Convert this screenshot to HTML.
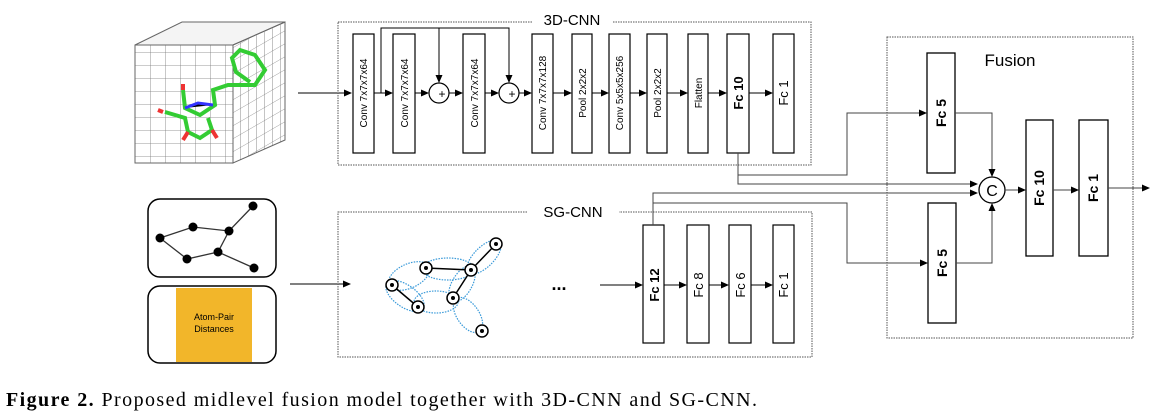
<!DOCTYPE html>
<html><head><meta charset="utf-8"><style>
body{margin:0;background:#fff;width:1165px;height:418px;overflow:hidden}
svg{display:block}
text{font-family:"Liberation Sans",sans-serif}
</style></head><body>
<svg width="1165" height="418" viewBox="0 0 1165 418" xmlns="http://www.w3.org/2000/svg">
<defs>
<marker id="a" markerWidth="8" markerHeight="8" refX="7" refY="4" orient="auto" markerUnits="userSpaceOnUse"><path d="M0,0.5 L8,4 L0,7.5z" fill="#000"/></marker>
<pattern id="g" width="15" height="13" patternUnits="userSpaceOnUse"><path d="M0,0H15M0,0V13" stroke="#777" stroke-width="0.8" fill="none"/></pattern>
<pattern id="g2" width="8" height="13" patternUnits="userSpaceOnUse" patternTransform="skewY(-30)"><path d="M0,0H8M0,0V13" stroke="#777" stroke-width="0.8" fill="none"/></pattern>
</defs>
<!-- cube -->
<polygon points="135,45 233,45 285,22 182,22" fill="#f4f4f4" stroke="#666"/>
<rect x="135" y="45" width="98" height="118" fill="url(#g)" stroke="#666"/>
<polygon points="233,45 285,22 285,140 233,163" fill="url(#g2)" stroke="#666"/>
<polyline points="183,90 185,108 200,115 215,105 213,90 228,85 255,85 265,70 255,55 240,50 232,58 236,72 250,82" fill="none" stroke="#3c3" stroke-width="4"/>
<polyline points="165,112 185,118 188,132 200,138 212,130 208,118" fill="none" stroke="#3c3" stroke-width="4"/>
<path d="M185,108 L198,103 L213,105" stroke="#33f" stroke-width="3"/>
<path d="M163,112 l-5,-2 M188,132 l-5,8 M212,130 l5,8 M183,90 l0,-6" stroke="#e33" stroke-width="4"/>
<line x1="298" y1="93" x2="351" y2="93" stroke="#000" marker-end="url(#a)"/>
<!-- 3D-CNN box -->
<rect x="338" y="22" width="473" height="143" fill="none" stroke="#555" stroke-dasharray="1.5,1"/>
<rect x="532" y="12" width="80" height="18" fill="#fff"/>
<text x="572" y="25" font-size="15" text-anchor="middle">3D-CNN</text>
<g stroke="#000" fill="#fff" stroke-width="1.2">
<rect x="353" y="34" width="21" height="119"/><rect x="393" y="34" width="22" height="119"/>
<rect x="463" y="34" width="22" height="119"/><rect x="532" y="34" width="21" height="119"/>
<rect x="572" y="34" width="20" height="119"/><rect x="609" y="34" width="21" height="119"/>
<rect x="647" y="34" width="20" height="119"/><rect x="688" y="34" width="20" height="119"/>
<rect x="727" y="34" width="22" height="119"/><rect x="773" y="34" width="21" height="119"/>
<circle cx="439" cy="93" r="10"/><circle cx="509" cy="93" r="10"/>
</g>
<g stroke="#000" fill="none">
<line x1="374" y1="93" x2="392" y2="93" marker-end="url(#a)"/>
<line x1="415" y1="93" x2="428" y2="93" marker-end="url(#a)"/>
<line x1="449" y1="93" x2="462" y2="93" marker-end="url(#a)"/>
<line x1="485" y1="93" x2="498" y2="93" marker-end="url(#a)"/>
<line x1="519" y1="93" x2="531" y2="93" marker-end="url(#a)"/>
<line x1="553" y1="93" x2="571" y2="93" marker-end="url(#a)"/>
<line x1="592" y1="93" x2="608" y2="93" marker-end="url(#a)"/>
<line x1="630" y1="93" x2="646" y2="93" marker-end="url(#a)"/>
<line x1="667" y1="93" x2="687" y2="93" marker-end="url(#a)"/>
<line x1="708" y1="93" x2="726" y2="93" marker-end="url(#a)"/>
<line x1="749" y1="93" x2="772" y2="93" marker-end="url(#a)"/>
<polyline points="381,93 381,28 509,28 509,82" marker-end="url(#a)"/>
<line x1="439" y1="28" x2="439" y2="82" marker-end="url(#a)"/>
</g>
<g font-size="10" text-anchor="middle">
<text x="442" y="98" font-size="12">+</text><text x="512" y="98" font-size="12">+</text>
<text transform="translate(367,93) rotate(-90)">Conv 7x7x7x64</text>
<text transform="translate(408,93) rotate(-90)">Conv 7x7x7x64</text>
<text transform="translate(478,93) rotate(-90)">Conv 7x7x7x64</text>
<text transform="translate(546,93) rotate(-90)">Conv 7x7x7x128</text>
<text transform="translate(586,93) rotate(-90)">Pool 2x2x2</text>
<text transform="translate(623,93) rotate(-90)">Conv 5x5x5x256</text>
<text transform="translate(661,93) rotate(-90)">Pool 2x2x2</text>
<text transform="translate(702,93) rotate(-90)">Flatten</text>
<text transform="translate(743,93) rotate(-90)" font-size="13" font-weight="bold">Fc 10</text>
<text transform="translate(788,93) rotate(-90)" font-size="13">Fc 1</text>
</g>
<!-- inputs -->
<rect x="148" y="199" width="128" height="78" rx="12" fill="none" stroke="#000" stroke-width="1.5"/>
<rect x="148" y="286" width="128" height="77" rx="12" fill="none" stroke="#000" stroke-width="1.5"/>
<rect x="176" y="288" width="76" height="74" fill="#f2b62a"/>
<text x="214" y="320" font-size="9" text-anchor="middle">Atom-Pair</text>
<text x="214" y="332" font-size="9" text-anchor="middle">Distances</text>
<g stroke="#333" stroke-width="1.3">
<polyline points="160,238 193,227 229,231 253,206" fill="none"/>
<polyline points="229,231 218,252 187,259 160,238" fill="none"/>
<line x1="218" y1="252" x2="254" y2="268"/>
</g>
<g fill="#000"><circle cx="160" cy="238" r="4.5"/><circle cx="193" cy="227" r="4.5"/><circle cx="229" cy="231" r="4.5"/><circle cx="253" cy="206" r="4.5"/><circle cx="218" cy="252" r="4.5"/><circle cx="187" cy="259" r="4.5"/><circle cx="254" cy="268" r="4.5"/></g>
<line x1="290" y1="284" x2="350" y2="284" stroke="#000" marker-end="url(#a)"/>
<!-- SG-CNN -->
<rect x="338" y="212" width="474" height="145" fill="none" stroke="#555" stroke-dasharray="1.5,1"/>
<rect x="527" y="202" width="92" height="20" fill="#fff"/>
<text x="573" y="217" font-size="15" text-anchor="middle">SG-CNN</text>
<g fill="none" stroke="#3a9ad9" stroke-dasharray="1.5,1.2" stroke-width="1.2">
<ellipse cx="405" cy="296" rx="22" ry="11" transform="rotate(35 405 296)"/>
<ellipse cx="409" cy="276" rx="22" ry="12" transform="rotate(-25 409 276)"/>
<ellipse cx="448" cy="269" rx="26" ry="11"/>
<ellipse cx="484" cy="257" rx="22" ry="10" transform="rotate(-45 484 257)"/>
<ellipse cx="462" cy="284" rx="20" ry="10" transform="rotate(-60 462 284)"/>
<ellipse cx="436" cy="302" rx="22" ry="11"/>
<ellipse cx="468" cy="315" rx="20" ry="11" transform="rotate(55 468 315)"/>
</g>
<g stroke="#000" stroke-width="1.5"><line x1="392" y1="285" x2="418" y2="307"/><line x1="426" y1="268" x2="471" y2="270"/><line x1="471" y1="270" x2="496" y2="244"/><line x1="471" y1="270" x2="453" y2="298"/></g>
<g fill="#fff" stroke="#000" stroke-width="1.5"><circle cx="392" cy="285" r="6"/><circle cx="426" cy="268" r="6"/><circle cx="471" cy="270" r="6"/><circle cx="496" cy="244" r="6"/><circle cx="453" cy="298" r="6"/><circle cx="418" cy="307" r="6"/><circle cx="482" cy="331" r="6"/></g>
<g fill="#000"><circle cx="392" cy="285" r="2"/><circle cx="426" cy="268" r="2"/><circle cx="471" cy="270" r="2"/><circle cx="496" cy="244" r="2"/><circle cx="453" cy="298" r="2"/><circle cx="418" cy="307" r="2"/><circle cx="482" cy="331" r="2"/></g>
<text x="559" y="290" font-size="18" font-weight="bold" text-anchor="middle">...</text>
<line x1="600" y1="285" x2="642" y2="285" stroke="#000" marker-end="url(#a)"/>
<g stroke="#000" fill="#fff" stroke-width="1.2">
<rect x="643" y="225" width="21" height="118"/><rect x="687" y="225" width="22" height="118"/>
<rect x="729" y="225" width="22" height="118"/><rect x="773" y="225" width="21" height="118"/>
</g>
<g stroke="#000"><line x1="664" y1="285" x2="686" y2="285" marker-end="url(#a)"/><line x1="709" y1="285" x2="728" y2="285" marker-end="url(#a)"/><line x1="751" y1="285" x2="772" y2="285" marker-end="url(#a)"/></g>
<g font-size="13" text-anchor="middle">
<text transform="translate(659,285) rotate(-90)" font-weight="bold">Fc 12</text>
<text transform="translate(703,285) rotate(-90)">Fc 8</text>
<text transform="translate(745,285) rotate(-90)">Fc 6</text>
<text transform="translate(788,285) rotate(-90)">Fc 1</text>
</g>
<!-- Fusion -->
<rect x="887" y="37" width="246" height="301" fill="none" stroke="#555" stroke-dasharray="1.5,1"/>
<text x="1010" y="66" font-size="17" text-anchor="middle">Fusion</text>
<g stroke="#000" fill="#fff" stroke-width="1.3">
<rect x="927" y="53" width="28" height="120"/><rect x="928" y="203" width="28" height="120"/>
<rect x="1026" y="120" width="27" height="136"/><rect x="1079" y="120" width="29" height="136"/>
<circle cx="992" cy="190" r="13"/>
</g>
<text x="992" y="196" font-size="16" text-anchor="middle">C</text>
<g font-size="14" font-weight="bold" text-anchor="middle">
<text transform="translate(946,113) rotate(-90)">Fc 5</text>
<text transform="translate(947,263) rotate(-90)">Fc 5</text>
<text transform="translate(1044,188) rotate(-90)">Fc 10</text>
<text transform="translate(1098,188) rotate(-90)">Fc 1</text>
</g>
<g stroke="#444" fill="none">
<polyline points="738,153 738,184 977,184" marker-end="url(#a)"/>
<polyline points="738,175 847,175 847,113 926,113" marker-end="url(#a)"/>
<polyline points="653,225 653,193 977,193" marker-end="url(#a)"/>
<polyline points="653,203 847,203 847,263 927,263" marker-end="url(#a)"/>
<polyline points="955,113 992,113 992,176" marker-end="url(#a)"/>
<polyline points="956,263 992,263 992,204" marker-end="url(#a)"/>
<line x1="1005" y1="190" x2="1025" y2="190" marker-end="url(#a)"/>
<line x1="1053" y1="190" x2="1078" y2="190" marker-end="url(#a)"/>
<line x1="1108" y1="188" x2="1149" y2="188" marker-end="url(#a)"/>
</g>
<text x="6" y="406" font-size="20" textLength="751" lengthAdjust="spacing" style="font-family:'Liberation Serif',serif"><tspan font-weight="bold">Figure 2.</tspan> Proposed midlevel fusion model together with 3D-CNN and SG-CNN.</text>
</svg>
</body></html>
